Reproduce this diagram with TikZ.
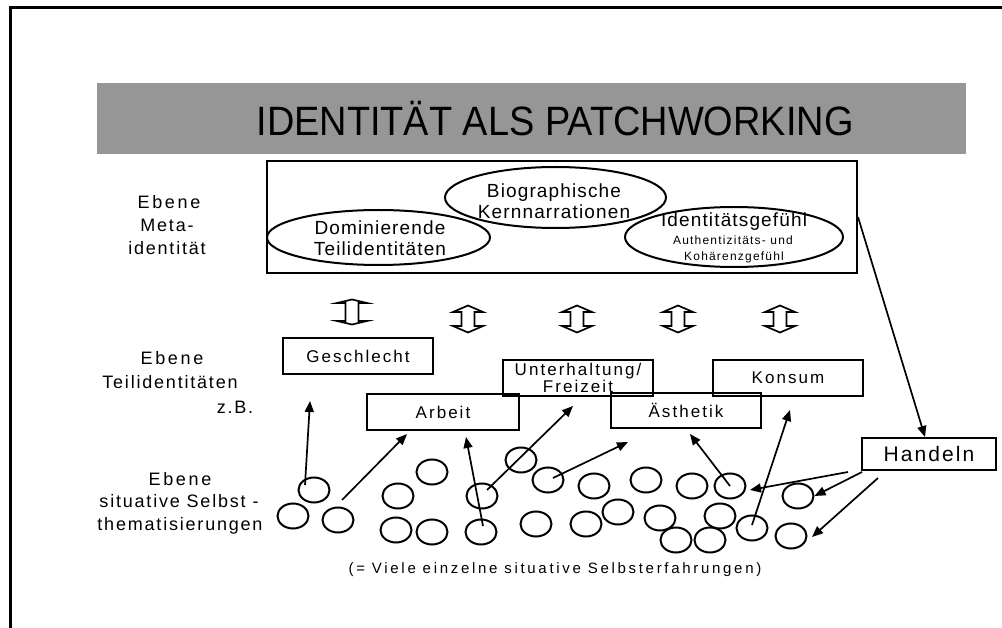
\documentclass[tikz,border=0pt]{standalone}
\usepackage{fontspec}
\setmainfont{Liberation Sans}
\newfontfamily\fA[LetterSpace=10]{Liberation Sans}
\newfontfamily\fB[LetterSpace=15]{Liberation Sans}
\newfontfamily\fT[LetterSpace=12]{Liberation Sans}
\newfontfamily\fCap[LetterSpace=18]{Liberation Sans}
\newfontfamily\fE[LetterSpace=6]{Liberation Sans}
\newfontfamily\fC[LetterSpace=10]{Liberation Sans}
\newfontfamily\fI[LetterSpace=6]{Liberation Sans}
\newfontfamily\fTitle[FakeStretch=0.925]{Liberation Sans}
\usetikzlibrary{arrows.meta,shapes.geometric}
\definecolor{bandgray}{RGB}{150,150,150}
\tikzset{
  dblarrow/.pic={\draw[line width=1.7pt,line join=miter]
     (0,-13.5) -- (15,-7) -- (6.5,-7) -- (6.5,7) -- (15,7) -- (0,13.5)
     -- (-15,7) -- (-6.5,7) -- (-6.5,-7) -- (-15,-7) -- cycle;},
  dblflat/.pic={\draw[line width=1.7pt,line join=miter]
     (0,-12.5) -- (15,-9) -- (6.5,-9) -- (6.5,9) -- (15,9) -- (0,12.5)
     -- (-15,9) -- (-6.5,9) -- (-6.5,-9) -- (-15,-9) -- cycle;}
}
\begin{document}
\begin{tikzpicture}[x=1pt,y=-1pt,
  frameline/.style={line width=3pt},
  metabox/.style={draw,rectangle,line width=2pt,inner sep=0pt},
  ell/.style={draw,ellipse,line width=2pt,inner sep=0pt},
  teil/.style={draw,rectangle,line width=2pt,minimum width=150pt,minimum height=36pt,inner sep=0pt,
     font=\fT\fontsize{17}{16.5}\selectfont,align=center},
  circ/.style={draw,ellipse,line width=2pt,minimum width=31pt,minimum height=25pt,inner sep=0pt},
  arr/.style={line width=1.7pt,-{Triangle[length=11pt,width=9pt]}},
  lbl/.style={inner sep=0pt,font=\fA\fontsize{18}{19}\selectfont},
  lblw/.style={inner sep=0pt,font=\fB\fontsize{18}{19}\selectfont},
  etxt/.style={inner sep=0pt,align=center,font=\fE\fontsize{19}{21}\selectfont}
]
\useasboundingbox (0,0) rectangle (1002,628);
% frame
\draw[frameline] (10.5,628) -- (10.5,7.5) -- (1002,7.5);
% title band
\fill[bandgray] (97,83) rectangle (966,154);
\node[inner sep=0pt,font=\fTitle\fontsize{41}{43}\selectfont] (title) at (555,119) {IDENTITÄT ALS PATCHWORKING};

% meta level
\node[metabox,minimum width=590pt,minimum height=112pt] (meta) at (562,217) {};
\node[ell,minimum width=221pt,minimum height=61pt] (bio) at (555.5,197.5) {};
\node[ell,minimum width=223pt,minimum height=55pt] (dom) at (378.5,237.5) {};
\node[ell,minimum width=218pt,minimum height=60pt] (idg) at (734,237) {};
\node[etxt] (biot) at (554,201) {Biographische\\Kernnarrationen};
\node[etxt] (domt) at (380,238) {Dominierende\\Teilidentitäten};
\node[inner sep=0pt,font=\fI\fontsize{19}{20}\selectfont] (idg1) at (734,222) {Identitätsgefühl};
\node[inner sep=0pt,font=\fC\fontsize{12}{14}\selectfont] (idg2) at (733,240) {Authentizitäts- und};
\node[inner sep=0pt,font=\fC\fontsize{12}{14}\selectfont] (idg3) at (734,257) {Kohärenzgefühl};

% left labels
\node[lblw] (m1) at (169,202) {Ebene};
\node[lbl] (m2) at (167,225) {Meta-};
\node[lbl] (m3) at (167,248) {identität};
\node[lblw] (t1) at (172,358) {Ebene};
\node[lbl] (t2) at (170,382) {Teilidentitäten};
\node[lbl] (t3) at (235,407) {z.B.};
\node[lblw] (s1) at (180,479) {Ebene};
\node[lbl] (s2) at (179,501) {situative Selbst -};
\node[lbl] (s3) at (180,526) {thematisierungen};

% double arrows
\pic at (352,312) {dblflat};
\pic at (468,319) {dblarrow};
\pic at (577,319) {dblarrow};
\pic at (678,319) {dblarrow};
\pic at (780,319) {dblarrow};

% partial identities
\node[teil] (ges) at (358,356) {Geschlecht};
\node[teil,minimum width=152pt] (arb) at (443,412) {Arbeit};
\node[teil] (unt) at (578,378) {Unterhaltung/\\Freizeit};
\node[teil,minimum height=35pt] (aes) at (686,410.5) {Ästhetik};
\node[teil] (kon) at (788,378) {Konsum};
\node[draw,rectangle,line width=2pt,minimum width=134pt,minimum height=32pt,inner sep=0pt,
      font=\fC\fontsize{21}{22}\selectfont] (hand) at (929,454) {Handeln};

% situative circles
\foreach \n/\x/\y in {c1/314/490, c2/293/516, c3/338/520, c4/398/496, c5/432/472,
   c6/396/530, c7/432/532, c8/482/496, c9/481/532, c10/521/460, c11/548/480,
   c12/536/524, c13/594/486, c14/646/480, c15/692/486, c16/730/486, c17/798/496,
   c18/586/524, c19/618/512, c20/660/518, c21/676/540, c22/710/540, c23/720/516,
   c24/752/528, c25/791/536}
  \node[circ] (\n) at (\x,\y) {};

% caption
\node[inner sep=0pt,font=\fCap\fontsize{15}{17}\selectfont] (cap) at (555,570)
  {(= Viele einzelne situative Selbsterfahrungen)};

% free arrow ends
\coordinate (ta) at (310,401);
\coordinate (sb) at (342,500);
\coordinate (tb) at (407,434);
\coordinate (tc) at (466,437);
\coordinate (td) at (573,406);
\coordinate (te) at (628,442);
\coordinate (tf) at (690,434);
\coordinate (tg) at (790,410);
\coordinate (th) at (750,490);
\coordinate (tj) at (812,537);

\draw[arr] ([shift={(-9,-5)}]c1.center) -- (ta);
\draw[arr] (sb) -- (tb);
\draw[arr] ([shift={(2,-6)}]c9.center) -- (tc);
\draw[arr] ([shift={(5,-6)}]c8.center) -- (td);
\draw[arr] ([shift={(5,-2)}]c11.center) -- (te);
\draw[arr] (c16.center) -- (tf);
\draw[arr] ([shift={(0,-3)}]c24.center) -- (tg);
\draw[arr] ([shift={(-13,1)}]hand.south west) -- (th);
\draw[arr] ([shift={(1,1)}]hand.south west) -- (c17.east);
\draw[arr] ([shift={(17,7)}]hand.south west) -- (tj);
\draw[arr] (meta.east) -- ([shift={(-4,0)}]hand.north);
\end{tikzpicture}
\end{document}
